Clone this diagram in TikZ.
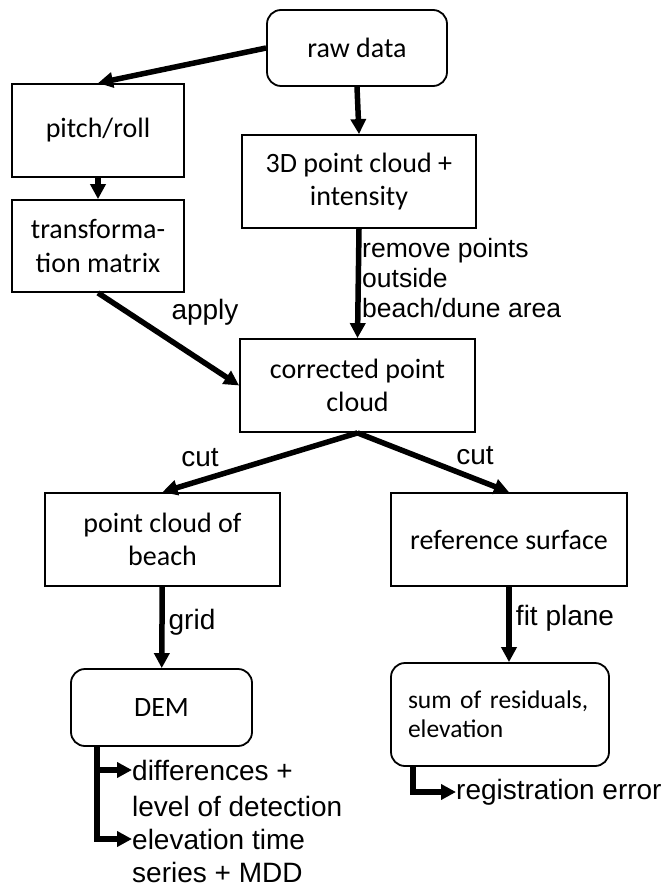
\documentclass[tikz,border=0pt]{standalone}
\usepackage{fontspec}
\setmainfont{Carlito}
\newfontfamily\lblfont{Liberation Sans}
\usetikzlibrary{arrows.meta}

\tikzset{
    box/.style={draw, line width=1.8pt, align=center, inner sep=0pt,
        font=\fontsize{28}{33.5}\selectfont},
    rbox/.style={box, rounded corners=14pt},
    lbl/.style={font=\lblfont\fontsize{28}{30}\selectfont, inner sep=0pt},
    flow/.style={line width=5.5pt, -{Triangle[length=15pt, width=15pt]}},
}

\begin{document}
\begin{tikzpicture}[x=1pt, y=-1pt]
    \useasboundingbox (0,0) rectangle (671,890);

    % Boxes
    \node[rbox, minimum width=180pt, minimum height=76pt] (raw) at (357,48) {raw data};
    \node[box, minimum width=172pt, minimum height=93pt] (pitch) at (98,130.5) {pitch/roll};
    \node[box, minimum width=172pt, minimum height=92pt] (trans) at (98,246) {transforma-\\tion matrix};
    \node[box, minimum width=234pt, minimum height=93pt] (cloud) at (359,181.5) {3D point cloud +\\intensity};
    \node[box, minimum width=235pt, minimum height=93pt] (corr) at (357.5,385.5) {corrected point\\cloud};
    \node[box, minimum width=235pt, minimum height=93pt] (beach) at (162.5,539.5) {point cloud of\\beach};
    \node[box, minimum width=236pt, minimum height=93pt] (refsurf) at (509,539.5) {reference surface};
    \node[rbox, minimum width=181pt, minimum height=77pt] (dem) at (161.5,707.5) {DEM};
    \node[rbox, minimum width=218pt, minimum height=103pt, align=left, text width=184pt,
        font=\fontsize{25.5}{29}\selectfont] (resid) at (500,714.5) {sum of residuals,\\elevation};

    % Edge labels
    \node[lbl] (apply) at (205,312) {apply};
    \node[lbl, anchor=west, align=left, font=\lblfont\fontsize{26.5}{30}\selectfont]
        (remove) at (362,278) {remove points\\outside\\beach/dune area};
    \node[lbl] (cutl) at (200,458) {cut};
    \node[lbl] (cutr) at (475,456) {cut};
    \node[lbl] (grid) at (192,622) {grid};
    \node[lbl] (fit) at (565,618) {fit plane};

    % Main flow
    \draw[flow] (raw.west) -- (pitch.north);
    \draw[flow] (raw.south) -- (cloud.north);
    \draw[flow] (pitch) -- (trans);
    \draw[flow] (trans.south) -- (corr.west);
    \draw[flow] (cloud.south) -- (corr.north);
    \draw[flow] (corr.south) -- (beach.north);
    \draw[flow] (corr.south) -- (refsurf.north);
    \draw[flow] (beach) -- (dem);
    \draw[flow] (refsurf.south) -- (refsurf.south |- resid.north);

    % Outputs
    \coordinate (demout) at ([xshift=27pt]dem.south west);
    \node[lbl, anchor=west] (diff) at (132,770) {differences +};
    \node[lbl, anchor=west] (lod) at (132,806) {level of detection};
    \node[lbl, anchor=west] (elev) at (132,839) {elevation time};
    \node[lbl, anchor=west] (series) at (132,872) {series + MDD};
    \draw[flow] (demout) |- (diff.west);
    \draw[flow] (demout) |- (elev.west);

    \coordinate (residout) at ([xshift=23pt]resid.south west);
    \node[lbl, anchor=west] (regerr) at (456,792) {registration error};
    \draw[flow] (residout) |- (regerr.west);
\end{tikzpicture}
\end{document}
